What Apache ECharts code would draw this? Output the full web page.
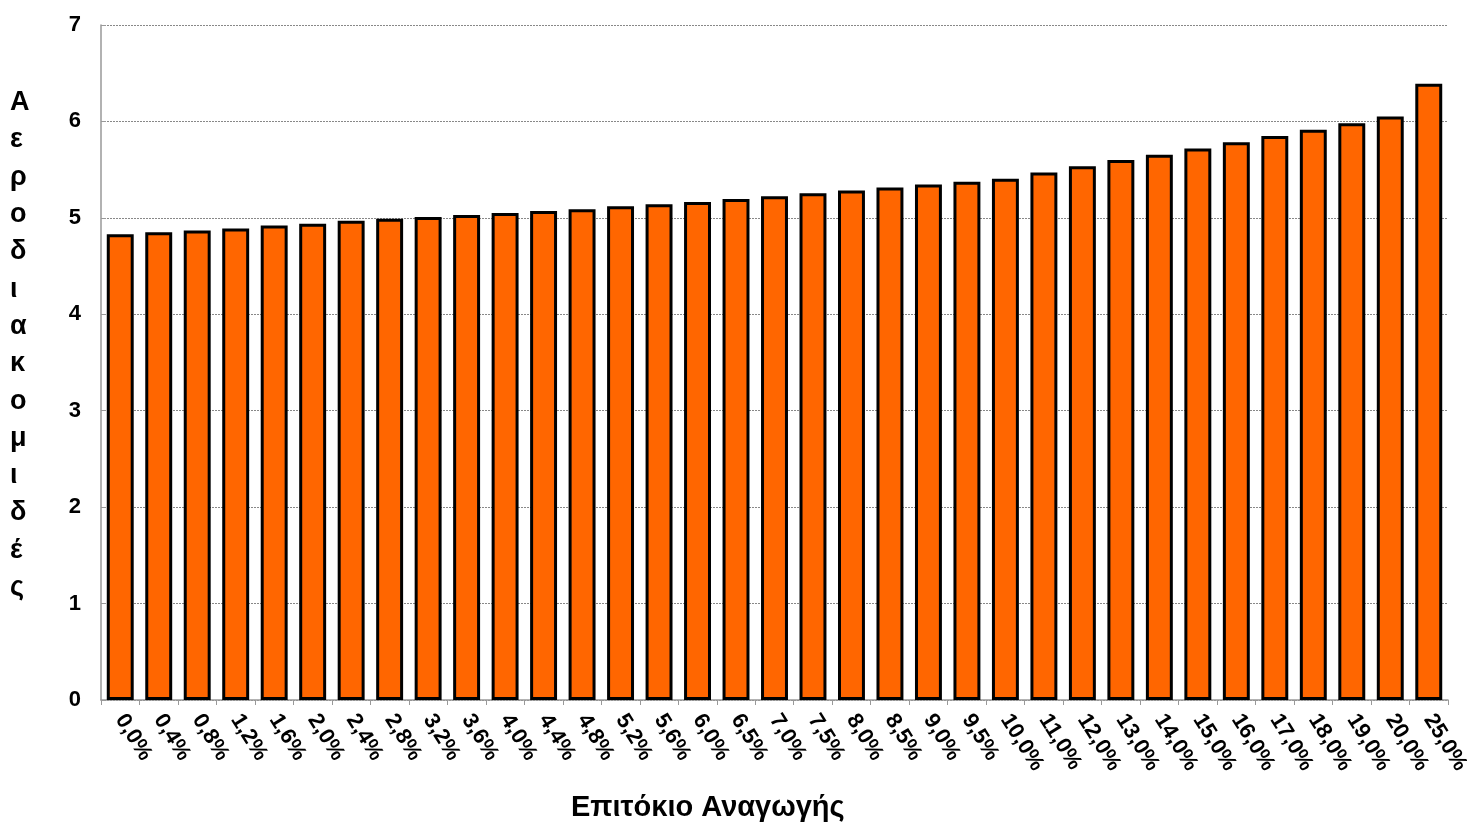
<!DOCTYPE html>
<html><head><meta charset="utf-8">
<script src="https://cdn.jsdelivr.net/npm/echarts@6/dist/echarts.min.js"></script>
<style>html,body{margin:0;padding:0;background:#fff}#c{width:1467px;height:827px}</style>
</head><body><div id="c"></div>
<script>
const categories = ['0,0%','0,4%','0,8%','1,2%','1,6%','2,0%','2,4%','2,8%','3,2%','3,6%','4,0%','4,4%','4,8%','5,2%','5,6%','6,0%','6,5%','7,0%','7,5%','8,0%','8,5%','9,0%','9,5%','10,0%','11,0%','12,0%','13,0%','14,0%','15,0%','16,0%','17,0%','18,0%','19,0%','20,0%','25,0%'];
const durations = [4.83,4.85,4.87,4.89,4.92,4.94,4.97,4.99,5.01,5.03,5.05,5.07,5.09,5.12,5.14,5.165,5.195,5.225,5.255,5.285,5.315,5.345,5.375,5.405,5.47,5.535,5.60,5.655,5.72,5.785,5.85,5.915,5.98,6.05,6.39];
const yTitle = 'Αεροδιακομιδές';
const xTitle = 'Επιτόκιο Αναγωγής';
const FONT = '"Liberation Sans", Arial, sans-serif';
const chart = echarts.init(document.getElementById('c'), null, {renderer:'canvas'});
chart.setOption({
  animation:false,
  grid:{left:101,right:19,top:25,bottom:127,containLabel:false,outerBoundsMode:'none'},
  xAxis:{
    type:'category', data:categories, boundaryGap:true,
    axisLine:{lineStyle:{color:'#999',width:1.5}},
    axisTick:{show:true,alignWithLabel:false,length:5,lineStyle:{color:'#999'}},
    axisLabel:{interval:0,rotate:-58,color:'#000',fontFamily:FONT,fontWeight:'bold',fontSize:22,margin:16,align:'left',verticalAlign:'middle'},
  },
  yAxis:{
    type:'value',min:0,max:7,interval:1,
    axisLine:{show:true,lineStyle:{color:'#999',width:1.5}},
    axisTick:{show:true,inside:true,length:5,lineStyle:{color:'#999'}},
    axisLabel:{color:'#000',fontFamily:FONT,fontWeight:'bold',fontSize:22,margin:20},
    splitLine:{show:true,lineStyle:{color:'#888',type:[2,1],width:1}}
  },
  graphic:[
    {type:'text',left:10,top:84,style:{text:yTitle.split('').join('\n'),fill:'#000',font:'bold 27px '+FONT,lineHeight:37.3,align:'center'}},
    {type:'text',left:571,top:793,style:{text:xTitle,fill:'#000',font:'bold 29px '+FONT}}
  ],
  series:[{type:'bar',data:durations,barWidth:'70%',
    itemStyle:{color:'#FF6600',borderColor:'#000',borderWidth:3}}]
});
</script></body></html>
